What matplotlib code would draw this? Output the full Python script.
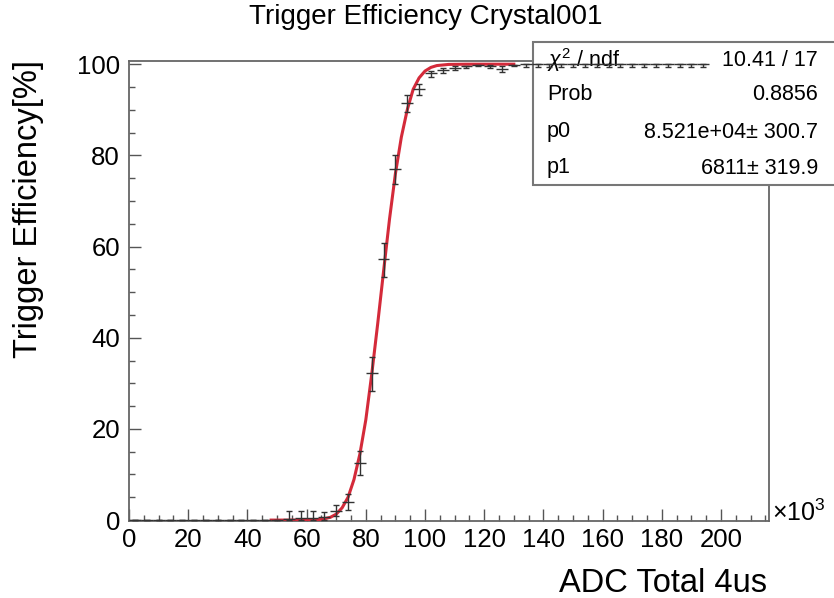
import matplotlib.pyplot as plt
from matplotlib.patches import Rectangle
from matplotlib.ticker import MultipleLocator

plt.rcParams['font.family'] = ['Liberation Sans', 'DejaVu Sans']
plt.rcParams['mathtext.fontset'] = 'custom'
plt.rcParams['mathtext.rm'] = 'Liberation Sans'
plt.rcParams['mathtext.it'] = 'Liberation Sans:italic'

# bin centres (x 10^3 ADC counts), efficiency [%] and asymmetric errors
adc_center = [2, 6, 10, 14, 18, 22, 26, 30, 34, 38, 42, 46, 50,
              54, 58, 62, 66, 70, 74, 78, 82, 86, 90, 94, 98,
              102, 106, 110, 114, 118, 122, 126, 130,
              134, 138, 142, 146, 150, 154, 158, 162, 166, 170,
              174, 178, 182, 186, 190, 194]
eff = [0, 0, 0, 0, 0, 0, 0, 0, 0, 0, 0, 0, 0,
       0.3, 0.4, 0.5, 0.6, 2.0, 3.9, 12.5, 32.2, 57.2, 77.0, 91.5, 94.5,
       98.0, 98.7, 99.2, 99.5, 99.8, 99.6, 99.0, 99.8,
       100, 100, 100, 100, 100, 100, 100, 100, 100, 100,
       100, 100, 100, 100, 100, 100]
err_lo = [0, 0, 0, 0, 0, 0, 0, 0, 0, 0, 0, 0, 0,
          0.3, 0.4, 0.5, 0.5, 1.2, 1.6, 2.7, 3.8, 3.8, 3.2, 1.9, 1.3,
          0.8, 0.6, 0.5, 0.4, 0.3, 0.4, 0.8, 0.3,
          0.6, 0.6, 0.6, 0.6, 0.6, 0.6, 0.6, 0.6, 0.6, 0.6,
          0.6, 0.6, 0.6, 0.6, 0.6, 0.6]
err_hi = [0, 0, 0, 0, 0, 0, 0, 0, 0, 0, 0, 0, 0,
          1.6, 1.7, 1.4, 1.2, 1.4, 1.8, 2.7, 3.6, 3.6, 3.0, 1.7, 1.1,
          0.6, 0.4, 0.3, 0.2, 0.1, 0.2, 0.5, 0.1,
          0, 0, 0, 0, 0, 0, 0, 0, 0, 0,
          0, 0, 0, 0, 0, 0]
bin_half = 2

# fitted curve
fit_x = [48, 52, 56, 60, 64, 66, 68, 70, 72, 74, 76, 78, 80, 82, 84, 86,
         88, 90, 92, 94, 96, 98, 100, 102, 104, 108, 114, 130]
fit_y = [0, 0, 0, 0.01, 0.1, 0.3, 0.6, 1.3, 2.7, 5.0, 8.9, 14.5, 22.0,
         32.0, 43.0, 54.6, 66.0, 76.0, 84.0, 90.0, 94.5, 97.0, 98.5, 99.3,
         99.7, 99.95, 100, 100]

stat_names = [r'$\chi^{2}$ / ndf', 'Prob', 'p0', 'p1']
stat_values = ['10.41 / 17', '0.8856', '8.521e+04\u00b1 300.7', '6811\u00b1 319.9']

W, H = 834, 598
fig = plt.figure(figsize=(W / 100, H / 100), dpi=100)
ax = fig.add_axes([129 / W, 1 - 521 / H, (769 - 129) / W, (521 - 61) / H])
ax.set_xlim(0, 216.2)
ax.set_ylim(-0.2, 100.7)

ax.plot(fit_x, fit_y, color='#d42a3a', lw=2.2, zorder=4)
ax.errorbar(adc_center, eff, yerr=[err_lo, err_hi], fmt='none', ecolor='#333333',
            elinewidth=1, capsize=2.5, capthick=1, zorder=5)
ax.errorbar(adc_center, eff, xerr=bin_half, fmt='none', ecolor='#333333',
            elinewidth=1, capsize=0, zorder=5)

ax.xaxis.set_major_locator(MultipleLocator(20))
ax.xaxis.set_minor_locator(MultipleLocator(5))
ax.yaxis.set_major_locator(MultipleLocator(20))
ax.yaxis.set_minor_locator(MultipleLocator(5))
ax.tick_params(which='both', direction='in', top=False, right=False,
               color='#555555', width=1, labelsize=18.5)
ax.tick_params(which='major', length=8.5)
ax.tick_params(which='minor', length=4.3)
ax.tick_params(axis='x', pad=5)
ax.tick_params(axis='y', pad=6.5)
for sp in ax.spines.values():
    sp.set_color('#666666')
    sp.set_linewidth(1.3)

# stats box
box = Rectangle((533 / W, 1 - 185 / H), (900 - 533) / W, (185 - 42) / H,
                transform=fig.transFigure, facecolor='white', edgecolor='#777777',
                lw=1.5, zorder=3.2, clip_on=False)
ax.add_artist(box)
row_y = [60, 95, 132, 168]
for name, val, yy in zip(stat_names, stat_values, row_y):
    ax.text(547 / W, 1 - yy / H, name, transform=fig.transFigure, fontsize=15.5,
            ha='left', va='center', zorder=3.5)
    ax.text(818 / W, 1 - yy / H, val, transform=fig.transFigure, fontsize=15.5,
            ha='right', va='center', zorder=3.5)

fig.text(426 / W, 1 - 17 / H, 'Trigger Efficiency Crystal001', ha='center',
         va='center', fontsize=20)
fig.text(767 / W, 1 - 583 / H, 'ADC Total 4us', ha='right', va='center', fontsize=23.5)
fig.text(29 / W, 1 - 60 / H, 'Trigger Efficiency[%]', rotation=90, ha='center',
         va='top', fontsize=23.5)
fig.text(772 / W, 1 - 513 / H, '\u00d710$^{3}$', ha='left', va='center', fontsize=18)

fig.savefig('out.png', dpi=100)
